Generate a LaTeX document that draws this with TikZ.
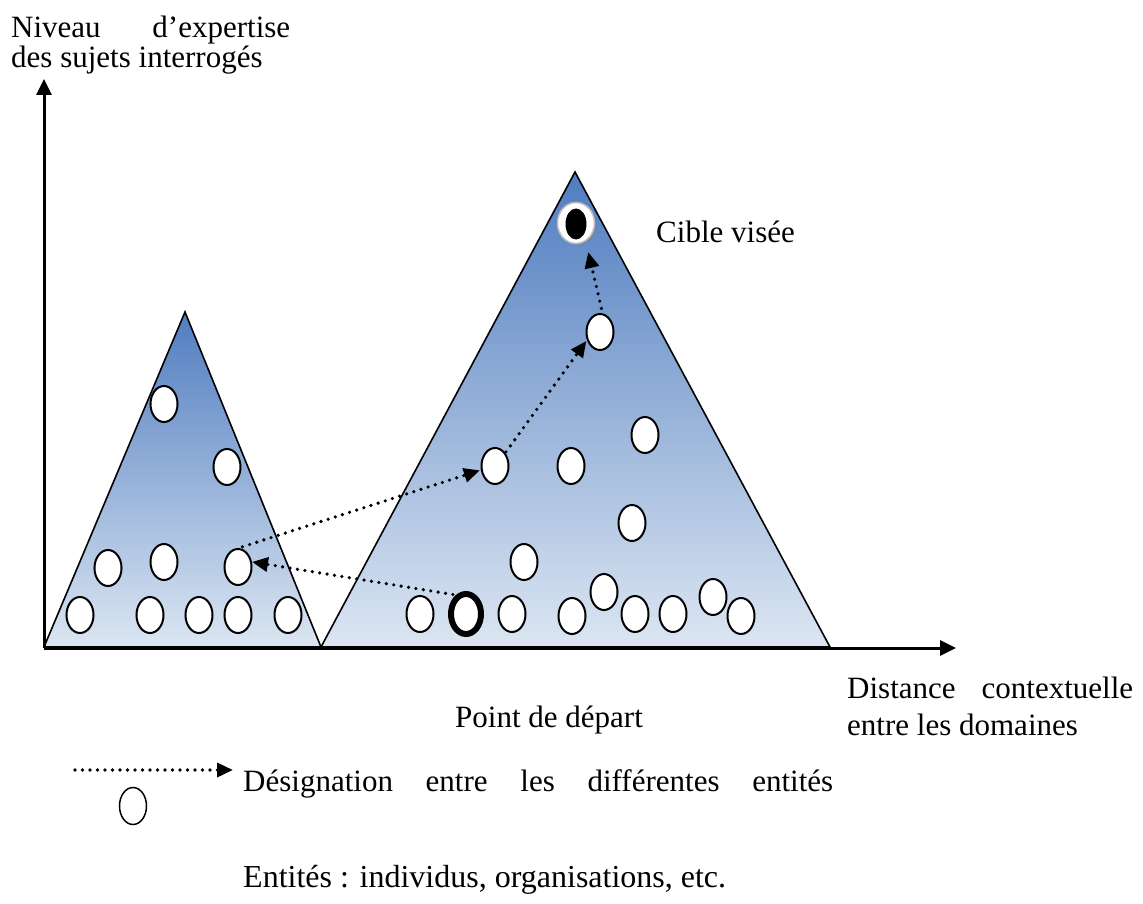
\documentclass[tikz,border=0pt]{standalone}
\usepackage{fontspec}
\setmainfont{Liberation Serif}
\usetikzlibrary{shapes.geometric,arrows.meta,shadows}

\definecolor{peakblue}{RGB}{80,125,192}
\definecolor{baseblue}{RGB}{220,230,242}
\definecolor{ringgray}{RGB}{190,190,190}

\tikzset{
  lbl/.style={font=\fontsize{31}{36}\selectfont, inner sep=0pt, anchor=base west},
  ent/.style={ellipse, draw=black, line width=2pt, fill=white,
              minimum width=27pt, minimum height=36pt, inner sep=0pt},
  startent/.style={ent, line width=6pt, minimum width=30pt, minimum height=40pt},
  mountain/.style={draw=black, line width=1.6pt, top color=peakblue, bottom color=baseblue},
  axis/.style={line width=3pt, -{Triangle[length=16pt,width=15pt]}},
  link/.style={line width=3.6pt, dash pattern=on 0pt off 7.5pt, line cap=round,
               -{Triangle[length=16pt,width=14pt]}}
}

\begin{document}
\begin{tikzpicture}[x=1pt,y=-1pt]
\path[use as bounding box] (0,0) rectangle (1143,904);

% the two domains
\path[mountain] (44,647) -- (185,312) -- (321,647) -- cycle;
\path[mountain] (321,647) -- (575,172) -- (830,647) -- cycle;

% axes
\coordinate (origin) at (44,648);
\coordinate (yend) at (44,79);
\coordinate (xend) at (956,648);
\draw[axis] (origin) -- (yend);
\draw[axis] (origin) -- (xend);

% entities of the first domain
\node[ent] (a1) at (164,404) {};
\node[ent] (a2) at (227,467) {};
\node[ent] (a3) at (108,568) {};
\node[ent] (a4) at (164,562) {};
\node[ent] (a5) at (238,567) {};
\node[ent] (a6) at (80,615) {};
\node[ent] (a7) at (150,615) {};
\node[ent] (a8) at (199,615) {};
\node[ent] (a9) at (238,615) {};
\node[ent] (a10) at (288,615) {};

% entities of the second domain
\node[ent] (b1) at (420,614) {};
\node[startent] (start) at (466,614) {};
\node[ent] (b2) at (512,614) {};
\node[ent] (b3) at (572,616) {};
\node[ent] (b4) at (604,592) {};
\node[ent] (b5) at (635,614) {};
\node[ent] (b6) at (673,614) {};
\node[ent] (b7) at (713,597) {};
\node[ent] (b8) at (741,616) {};
\node[ent] (b9) at (524,562) {};
\node[ent] (b10) at (632,523) {};
\node[ent] (b11) at (495,466) {};
\node[ent] (b12) at (571,466) {};
\node[ent] (b13) at (645,435) {};
\node[ent] (b14) at (600,332) {};

% target entity
\node[ellipse, draw=ringgray, line width=1.5pt, fill=white,
      minimum width=37pt, minimum height=41pt, inner sep=0pt,
      drop shadow={shadow xshift=2pt, shadow yshift=-2pt, opacity=0.35}] (target) at (576,223) {};
\node[ellipse, fill=black, minimum width=21pt, minimum height=31pt, inner sep=0pt] (targetcore) at (576,224) {};

% designation chain
\draw[link, shorten <=3pt] (start.118) -- (a5.20);
\draw[link, shorten <=4pt, shorten >=1pt] (a5.88) -- (b11.196);
\draw[link, shorten <=1pt, shorten >=1pt] (b11.52) -- (b14.212);
\draw[link, shorten <=5pt, shorten >=11pt] (b14.82) -- (target.-62);

% labels
\node[lbl] (ylab1) at (11,38) {\hbox to 279pt{Niveau\hfill d’expertise}};
\node[lbl] (ylab2) at (11,68) {des sujets interrogés};
\node[lbl] (cible) at (656,243) {Cible visée};
\node[lbl] (depart) at (455,727) {Point de départ};
\node[lbl] (xlab1) at (847,698) {\hbox to 286pt{Distance\hfill contextuelle}};
\node[lbl] (xlab2) at (847,735) {entre les domaines};

% legend
\coordinate (legA) at (75,770);
\coordinate (legB) at (233,770);
\draw[link] (legA) -- (legB);
\node[lbl] (leg1) at (243,791) {\hbox to 590pt{Désignation\hfill entre\hfill les\hfill différentes\hfill entités}};
\node[ent, line width=1.5pt, minimum width=27pt, minimum height=37pt] (legent) at (133,806) {};
\node[lbl, font=\fontsize{32}{36}\selectfont] (leg2) at (243,887) {Entités : individus, organisations, etc.};
\end{tikzpicture}
\end{document}
